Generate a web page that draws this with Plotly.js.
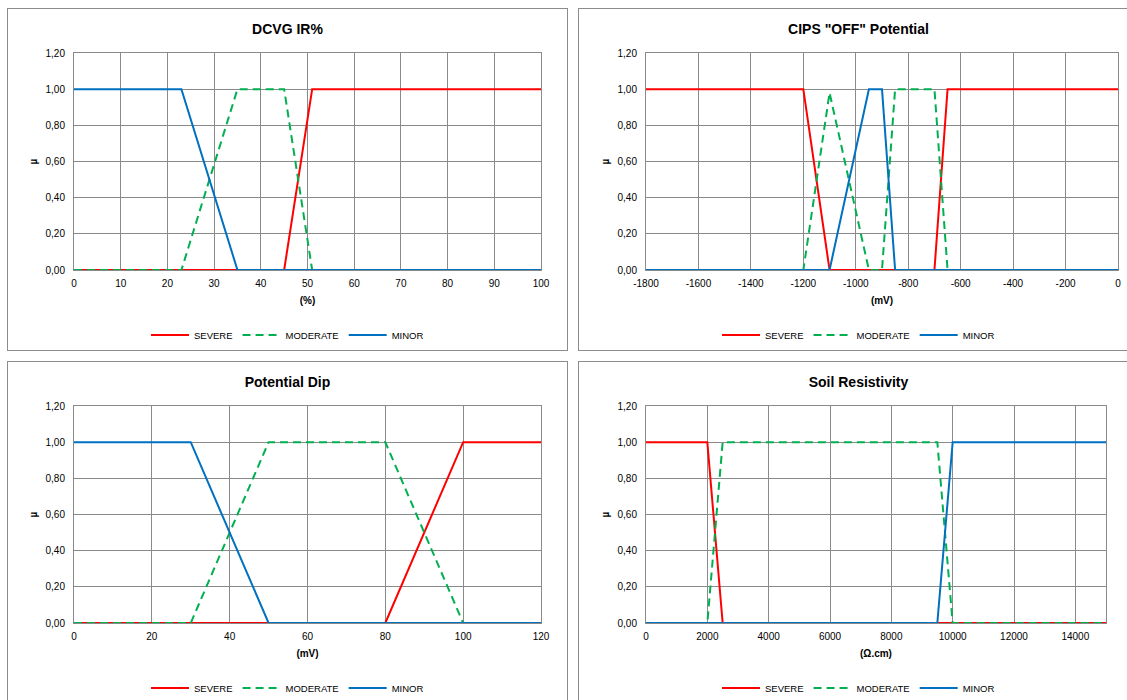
<!DOCTYPE html>
<html>
<head>
<meta charset="utf-8">
<script src="https://cdn.plot.ly/plotly-3.0.1.min.js"></script>
<style>
  html, body { margin:0; padding:0; background:#fff; width:1127px; height:700px; overflow:hidden; }
  .box { position:absolute; border:1px solid #8c8c8c; box-sizing:border-box; background:#fff; }
  .plot { position:absolute; left:0; top:0; }
</style>
</head>
<body>
<div id="b1" class="box" style="left:7px;top:8px;width:561px;height:343px;"><div id="p1" class="plot"></div></div>
<div id="b2" class="box" style="left:578px;top:8px;width:561px;height:343px;"><div id="p2" class="plot"></div></div>
<div id="b3" class="box" style="left:7px;top:361px;width:561px;height:345px;"><div id="p3" class="plot"></div></div>
<div id="b4" class="box" style="left:578px;top:361px;width:561px;height:345px;"><div id="p4" class="plot"></div></div>
<script>
// ---- Series names ----
const seriesNames = ["SEVERE", "MODERATE", "MINOR"];

// ---- DCVG IR% ----
const dcvgSevereX   = [0, 45, 51, 100];
const dcvgSevereY   = [0, 0, 1, 1];
const dcvgModerateX = [0, 23, 35, 45, 51, 100];
const dcvgModerateY = [0, 0, 1, 1, 0, 0];
const dcvgMinorX    = [0, 23, 35, 100];
const dcvgMinorY    = [1, 1, 0, 0];
const dcvgTickVals  = [0, 10, 20, 30, 40, 50, 60, 70, 80, 90, 100];
const dcvgTickText  = ["0", "10", "20", "30", "40", "50", "60", "70", "80", "90", "100"];

// ---- CIPS "OFF" Potential ----
const cipsSevereX   = [-1800, -1200, -1100, -700, -650, 0];
const cipsSevereY   = [1, 1, 0, 0, 1, 1];
const cipsModerateX = [-1800, -1200, -1100, -950, -900, -850, -700, -650, 0];
const cipsModerateY = [0, 0, 0.98, 0, 0, 1, 1, 0, 0];
const cipsMinorX    = [-1800, -1100, -950, -900, -850, 0];
const cipsMinorY    = [0, 0, 1, 1, 0, 0];
const cipsTickVals  = [-1800, -1600, -1400, -1200, -1000, -800, -600, -400, -200, 0];
const cipsTickText  = ["-1800", "-1600", "-1400", "-1200", "-1000", "-800", "-600", "-400", "-200", "0"];

// ---- Potential Dip ----
const dipSevereX   = [0, 80, 100, 120];
const dipSevereY   = [0, 0, 1, 1];
const dipModerateX = [0, 30, 50, 80, 100, 120];
const dipModerateY = [0, 0, 1, 1, 0, 0];
const dipMinorX    = [0, 30, 50, 120];
const dipMinorY    = [1, 1, 0, 0];
const dipTickVals  = [0, 20, 40, 60, 80, 100, 120];
const dipTickText  = ["0", "20", "40", "60", "80", "100", "120"];

// ---- Soil Resistivity ----
const soilSevereX   = [0, 2000, 2500, 15000];
const soilSevereY   = [1, 1, 0, 0];
const soilModerateX = [0, 2000, 2500, 9500, 10000, 15000];
const soilModerateY = [0, 0, 1, 1, 0, 0];
const soilMinorX    = [0, 9500, 10000, 15000];
const soilMinorY    = [0, 0, 1, 1];
const soilTickVals  = [0, 2000, 4000, 6000, 8000, 10000, 12000, 14000];
const soilTickText  = ["0", "2000", "4000", "6000", "8000", "10000", "12000", "14000"];

// ---- Y axis ticks ----
const yTickVals = [0, 0.2, 0.4, 0.6, 0.8, 1.0, 1.2];
const yTickText = ["0,00", "0,20", "0,40", "0,60", "0,80", "1,00", "1,20"];

const FONT = "Arial, 'Liberation Sans', sans-serif";
const GRID = "#8a8a8a";
const styles = [
  {color:"#ff0000", width:2, dash:"solid"},
  {color:"#00b050", width:2, dash:"8px,5px"},
  {color:"#0070c0", width:2, dash:"solid"}
];

function makeChart(id, w, h, m, title, xTitle, xr, tv, tt, xs, ys) {
  const traces = xs.map((x, i) => ({
    type:"scatter", mode:"lines", name:seriesNames[i],
    x:x, y:ys[i], line:styles[i], hoverinfo:"skip"
  }));
  const layout = {
    width:w, height:h, margin:m,
    paper_bgcolor:"#fff", plot_bgcolor:"#fff",
    font:{family:FONT, size:10, color:"#000"},
    title:{text:"<b>"+title+"</b>", font:{family:FONT, size:14, color:"#000"},
           xref:"container", x:0.5, xanchor:"center", yref:"container", y:1-20/h, yanchor:"middle"},
    xaxis:{range:xr, tickvals:tv, ticktext:tt, showgrid:true, gridcolor:GRID, gridwidth:1,
           showline:true, linecolor:GRID, linewidth:1, mirror:true, zeroline:false, ticks:"",
           ticklabelstandoff:4,
           tickfont:{family:FONT, size:10, color:"#000"},
           title:{text:"<b>"+xTitle+"</b>", font:{family:FONT, size:10, color:"#000"}, standoff:8}},
    yaxis:{range:[0,1.2], tickvals:yTickVals, ticktext:yTickText, showgrid:true, gridcolor:GRID, gridwidth:1,
           showline:true, linecolor:GRID, linewidth:1, mirror:true, zeroline:false, ticks:"",
           ticklabelstandoff:6,
           tickfont:{family:FONT, size:10, color:"#000"},
           title:{text:"<b>µ</b>", font:{family:FONT, size:10, color:"#000"}, standoff:6}},
    showlegend:true,
    legend:{orientation:"h", xref:"container", x:0.5, xanchor:"center", yref:"container", y:1-(326)/h, yanchor:"middle",
            font:{family:FONT, size:9.5, color:"#000"}, itemwidth:38, traceorder:"normal", bgcolor:"rgba(0,0,0,0)"}
  };
  Plotly.newPlot(id, traces, layout, {staticPlot:true, displayModeBar:false});
}

makeChart("p1", 559, 341, {l:66, r:26, t:44, b:80}, "DCVG IR%", "(%)", [0,100], dcvgTickVals, dcvgTickText,
  [dcvgSevereX, dcvgModerateX, dcvgMinorX], [dcvgSevereY, dcvgModerateY, dcvgMinorY]);
makeChart("p2", 559, 341, {l:67, r:20, t:44, b:80}, "CIPS \"OFF\" Potential", "(mV)", [-1800,0], cipsTickVals, cipsTickText,
  [cipsSevereX, cipsModerateX, cipsMinorX], [cipsSevereY, cipsModerateY, cipsMinorY]);
makeChart("p3", 559, 343, {l:66, r:26, t:44, b:82}, "Potential Dip", "(mV)", [0,120], dipTickVals, dipTickText,
  [dipSevereX, dipModerateX, dipMinorX], [dipSevereY, dipModerateY, dipMinorY]);
makeChart("p4", 559, 343, {l:67, r:32, t:44, b:82}, "Soil Resistivity", "(Ω.cm)", [0,15000], soilTickVals, soilTickText,
  [soilSevereX, soilModerateX, soilMinorX], [soilSevereY, soilModerateY, soilMinorY]);
</script>
</body>
</html>
